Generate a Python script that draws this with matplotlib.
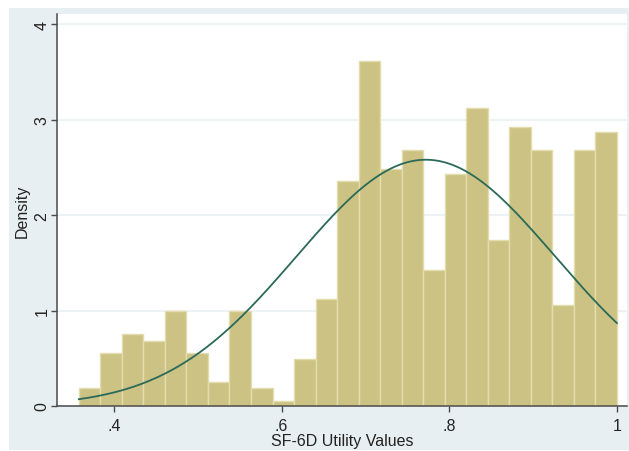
import numpy as np
import matplotlib
matplotlib.use("Agg")
import matplotlib.pyplot as plt
from matplotlib.patches import Rectangle

# Histogram of SF-6D utility values (density scale), 25 bins
bin_start = 0.358
bin_width = 0.02568
densities = [0.19, 0.56, 0.75, 0.68, 1.00, 0.56, 0.25, 1.00, 0.19, 0.05,
             0.49, 1.12, 2.36, 3.62, 2.49, 2.68, 1.43, 2.43, 3.12, 1.74,
             2.93, 2.68, 1.06, 2.68, 2.87]

# Normal density overlay
mean_val = 0.772
sd_val = 0.1545

x_ticks = [0.4, 0.6, 0.8, 1.0]
x_ticklabels = [".4", ".6", ".8", "1"]
y_ticks = [0, 1, 2, 3, 4]
y_ticklabels = ["0", "1", "2", "3", "4"]

plt.rcParams["font.family"] = ["Liberation Sans", "DejaVu Sans"]

fig = plt.figure(figsize=(6.29, 4.52), dpi=100, facecolor="white")
# Stata-style light blue graph region
fig.patches.append(Rectangle((9 / 629, 1 / 452), 620 / 629, 442 / 452,
                             transform=fig.transFigure, facecolor="#E8EFF2",
                             edgecolor="none", zorder=-5))

ax = fig.add_axes([57 / 629, 45 / 452, 570 / 629, 392 / 452])
ax.set_zorder(2)
ax.set_facecolor("white")

n_bins = len(densities)
left_edges = bin_start + bin_width * np.arange(n_bins)
ax.bar(left_edges, densities, width=bin_width, align="edge",
       color="#CCC283", edgecolor="#E2DCAE", linewidth=1.0, zorder=2)

xs = np.linspace(bin_start, bin_start + bin_width * n_bins, 300)
pdf = np.exp(-0.5 * ((xs - mean_val) / sd_val) ** 2) / (sd_val * np.sqrt(2 * np.pi))
ax.plot(xs, pdf, color="#2B6A58", linewidth=1.3, zorder=3)

ax.set_xlim(0.332, 1.012)
ax.set_ylim(0, 4.11)
ax.set_xticks(x_ticks)
ax.set_xticklabels(x_ticklabels, fontsize=11.5)
ax.set_yticks(y_ticks)
ax.set_yticklabels(y_ticklabels, fontsize=11.5, rotation=90, va="center")

ax.grid(axis="y", color="#EAF1F3", linewidth=1.2, zorder=1)
ax.set_axisbelow(True)

for side in ["top", "right"]:
    ax.spines[side].set_visible(False)
for side in ["left", "bottom"]:
    ax.spines[side].set_color("#4A4A4A")
    ax.spines[side].set_linewidth(1.1)
ax.tick_params(axis="both", direction="out", length=4.5, width=1.0,
               color="#4A4A4A", labelcolor="#222222")
ax.tick_params(axis="y", pad=1)
ax.tick_params(axis="x", pad=4)

ax.set_xlabel("SF-6D Utility Values", fontsize=11.5, labelpad=0.5, color="#222222")
ax.set_ylabel("Density", fontsize=11.5, labelpad=3, color="#222222")

fig.savefig("out.png", dpi=100, facecolor=fig.get_facecolor())
